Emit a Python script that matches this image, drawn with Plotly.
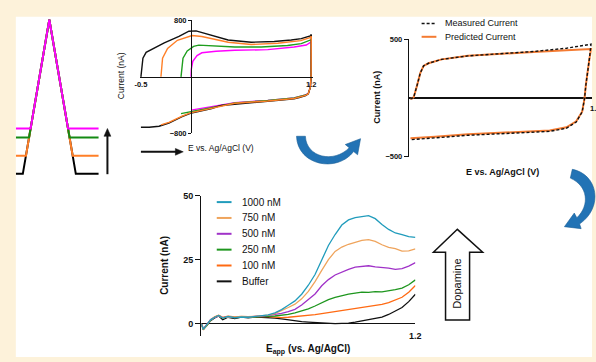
import plotly.graph_objects as go

W, H = 596, 362
def fx(x): return x / W
def fy(y): return 1 - y / H

FONT = "Arial, 'Liberation Sans', sans-serif"
CREAM = "#FDF2DA"

# ---------------- DATA ----------------
# Panel A: triangular waveforms with different holding potentials (time, potential)
wave_names = ["-0.5 V", "-0.3 V", "-0.1 V", "0.0 V"]
wave_colors = ["#000000", "#FF7F27", "#138A13", "#FF00FF"]
wave_t = [[0, 7.1, 34, 60.9, 84],
          [0, 10.3, 34, 57.7, 84],
          [0, 13.4, 34, 54.6, 84],
          [0, 15.0, 34, 53.0, 84]]
wave_E = [[-0.5, -0.5, 1.2, -0.5, -0.5],
          [-0.3, -0.3, 1.2, -0.3, -0.3],
          [-0.1, -0.1, 1.2, -0.1, -0.1],
          [0.0, 0.0, 1.2, 0.0, 0.0]]

# Panel B: background CVs for each holding potential
cv_names = ["0.0 V", "-0.1 V", "-0.5 V", "-0.3 V"]
cv_colors = ["#FF00FF", "#1E9E1E", "#111111", "#FF7F27"]
cv_E = [
    [0, 0.003, 0.018, 0.043, 0.06, 0.108, 0.25, 0.437, 0.766, 1.029, 1.15, 1.193, 1.2,
     1.198, 1.19, 1.17, 1.144, 1.029, 0.766, 0.437, 0.207, 0.1, 0.0],
    [-0.1, -0.09, -0.08, -0.038, 0.026, 0.077, 0.174, 0.437, 0.7, 0.963, 1.1, 1.193, 1.2,
     1.198, 1.19, 1.17, 1.144, 1.029, 0.766, 0.437, 0.207, 0.05, -0.05, -0.1],
    [-0.5, -0.49, -0.48, -0.448, -0.40, -0.267, -0.12, -0.021, 0.05, 0.17, 0.37, 0.6, 0.83, 1.0, 1.1, 1.19, 1.2,
     1.198, 1.19, 1.17, 1.144, 1.08, 1.029, 0.9, 0.766, 0.6, 0.437, 0.3, 0.207, 0.1, -0.007, -0.089, -0.15, -0.221, -0.319, -0.418, -0.5],
    [-0.3, -0.292, -0.284, -0.234, -0.136, 0.011, 0.108, 0.371, 0.602, 0.865, 1.095, 1.193, 1.2,
     1.198, 1.19, 1.17, 1.144, 1.029, 0.766, 0.437, 0.207, -0.007, -0.089, -0.15, -0.22, -0.3],
]
cv_I = [
    [0, 110, 218, 270, 300, 340, 362, 375, 384, 421, 450, 489, 500,
     0, -150, -235, -255, -298, -333, -366, -425, -455, -471],
    [0, 130, 263, 365, 430, 448, 443, 421, 421, 443, 470, 512, 525,
     0, -150, -238, -258, -300, -336, -370, -432, -480, -505, -520],
    [0, 120, 263, 346, 380, 479, 571, 645, 650, 600, 521, 489, 500, 520, 540, 580, 600,
     0, -150, -242, -265, -295, -311, -330, -347, -362, -379, -405, -448, -485, -517, -562, -610, -654, -699, -713, -713],
    [0, 130, 263, 401, 517, 585, 570, 489, 457, 475, 512, 558, 575,
     0, -150, -240, -262, -306, -342, -374, -440, -510, -555, -600, -645, -680],
]

# Panel C: measured vs predicted current
mp_E = [-0.386, -0.372, -0.358, -0.344, -0.330, -0.301, -0.273, -0.231, -0.118, 0.108, 0.390, 0.673, 0.955, 1.166,
        1.152, 1.138, 1.122, 1.110, 1.090, 1.039, 0.955, 0.811, 0.531, 0.108, -0.174, -0.386]
pred_I = [-8, -5, 6, 50, 102, 212, 272, 294, 327, 357, 376, 390, 404, 415,
          330, 239, 110, -8, -118, -200, -250, -277, -290, -310, -330, -343]
meas_I = [-8, -5, 6, 50, 102, 212, 272, 294, 327, 357, 378, 394, 422, 456,
          330, 239, 110, -8, -120, -205, -258, -285, -298, -318, -340, -356]

# Panel D: dopamine voltammograms
da_E = [-0.4, -0.385, -0.36, -0.33, -0.3, -0.27, -0.24, -0.2, -0.15, -0.1, -0.05, 0.0,
        0.05, 0.1, 0.15, 0.2, 0.25, 0.3, 0.35, 0.4, 0.45, 0.5, 0.55, 0.6, 0.65, 0.7,
        0.75, 0.8, 0.85, 0.9, 0.95, 1.0, 1.05, 1.1, 1.15, 1.2]
da_names = ["1000 nM", "750 nM", "500 nM", "250 nM", "100 nM", "Buffer"]
da_colors = ["#219CBC", "#EFA45C", "#A032C8", "#1E961E", "#FF6A13", "#111111"]
da_I = [
    [0, -2.2, -0.5, 1.5, 2.5, 3.2, 2.2, 2.8, 2.4, 2.6, 2.5, 2.8,
     3.0, 3.4, 4.2, 5.5, 7.2, 8.9, 11.5, 15.0, 19.2, 24.8, 30.5, 34.8, 38.5, 40.5,
     41.4, 41.8, 42.2, 41.0, 38.7, 36.8, 35.4, 34.8, 34.0, 33.7],
    [0, -2.1, -0.6, 1.4, 2.6, 3.1, 2.3, 2.7, 2.5, 2.7, 2.6, 2.9,
     3.0, 3.3, 3.9, 5.0, 6.3, 7.6, 9.7, 12.6, 16.4, 20.8, 25.0, 28.2, 29.9, 31.0,
     31.9, 32.5, 32.8, 32.1, 30.8, 29.8, 29.3, 28.3, 28.4, 29.2],
    [0, -2.0, -0.4, 1.6, 2.4, 3.0, 2.4, 2.6, 2.4, 2.5, 2.6, 2.8,
     3.0, 3.2, 3.5, 4.0, 4.7, 5.6, 7.3, 9.4, 11.6, 14.8, 17.2, 19.0, 20.2, 21.2,
     22.1, 22.4, 22.6, 22.2, 22.0, 21.7, 21.2, 21.5, 22.5, 23.8],
    [0, -2.3, -0.7, 1.3, 2.5, 3.1, 2.2, 2.7, 2.3, 2.6, 2.5, 2.7,
     2.8, 2.9, 3.0, 3.2, 3.6, 4.2, 4.9, 5.8, 6.9, 8.2, 9.4, 10.3, 11.0, 11.5,
     11.9, 12.3, 12.2, 12.5, 12.4, 12.8, 13.3, 13.9, 15.2, 17.1],
    [0, -2.4, -0.6, 1.5, 2.7, 3.3, 2.5, 2.9, 2.6, 2.8, 2.7, 2.9,
     2.9, 2.8, 2.6, 2.4, 2.5, 2.7, 2.9, 3.2, 3.5, 3.9, 4.3, 4.6, 5.0, 5.4,
     5.8, 6.1, 6.5, 7.0, 7.5, 8.2, 9.1, 10.3, 12.3, 14.9],
    [0, -2.0, -0.8, 1.2, 2.2, 3.0, 1.5, 2.5, 2.0, 2.6, 2.3, 2.6,
     2.5, 2.4, 2.2, 1.9, 1.5, 1.1, 0.8, 0.6, 0.4, 0.2, 0.1, 0.0, 0.1, 0.2,
     0.6, 1.1, 1.6, 2.0, 2.6, 3.6, 4.8, 6.3, 8.6, 11.5],
]

# ---------------- FIGURE ----------------
fig = go.Figure()

for t, e, c, n in zip(wave_t, wave_E, wave_colors, wave_names):
    fig.add_trace(go.Scatter(x=t, y=e, mode="lines", name=n, line=dict(color=c, width=2),
                             xaxis="x", yaxis="y", showlegend=False, hoverinfo="skip"))

for e, i, c, n in zip(cv_E, cv_I, cv_colors, cv_names):
    fig.add_trace(go.Scatter(x=e, y=i, mode="lines", name=n, line=dict(color=c, width=1.4),
                             xaxis="x2", yaxis="y2", showlegend=False))

fig.add_trace(go.Scatter(x=mp_E, y=pred_I, mode="lines", name="Predicted Current",
                         line=dict(color="#F47B32", width=2), xaxis="x3", yaxis="y3", showlegend=False))
fig.add_trace(go.Scatter(x=mp_E, y=meas_I, mode="lines", name="Measured Current",
                         line=dict(color="#111111", width=1.4, dash="3px,2px"), xaxis="x3", yaxis="y3",
                         showlegend=False))

for i in range(len(da_names) - 1, -1, -1):
    fig.add_trace(go.Scatter(x=da_E, y=da_I[i], mode="lines", name=da_names[i],
                             line=dict(color=da_colors[i], width=1.3), xaxis="x4", yaxis="y4",
                             showlegend=False))

# wave axis scaling: 93.33 px per volt, 0 V at pixel 127
wave_px_per_V = 112 / 1.2
ax_common = dict(showgrid=False, zeroline=False)

layout = dict(
    width=W, height=H, margin=dict(l=0, r=0, t=0, b=0),
    paper_bgcolor=CREAM, plot_bgcolor="rgba(0,0,0,0)",
    font=dict(family=FONT, color="#111111"),
    showlegend=False,
    xaxis=dict(domain=[fx(11), fx(97)], range=[0, 86], visible=False, **ax_common),
    yaxis=dict(domain=[fy(180), fy(10)],
               range=[(127 - 180) / wave_px_per_V, (127 - 10) / wave_px_per_V],
               visible=False, **ax_common),
    xaxis2=dict(domain=[fx(136.98), fx(312.5)], range=[-0.51, 1.215], anchor="free",
                position=fy(73.85), showline=True, linecolor="#111111", linewidth=1,
                ticks="", tickvals=[-0.5, 1.2], ticktext=["-0.5", "1.2"],
                tickfont=dict(size=7.5, weight="bold"), **ax_common),
    yaxis2=dict(domain=[fy(132), fy(15.7)], range=[-800, 800], anchor="free",
                position=fx(188.9), showline=True, linecolor="#111111", linewidth=1,
                ticks="outside", ticklen=3, tickcolor="#111111", tickvals=[800, -800],
                tickfont=dict(size=7.5, weight="bold"), **ax_common),
    xaxis3=dict(domain=[fx(410), 1], range=[-0.4, 1.1746], visible=False, anchor="y3", **ax_common),
    yaxis3=dict(domain=[fy(156), fy(35)], range=[-500, 500], anchor="x3",
                showline=True, linecolor="#111111", linewidth=1,
                ticks="outside", ticklen=4, tickcolor="#111111", tickvals=[500, -500],
                tickfont=dict(size=7.5, weight="bold"),
                showgrid=False, zeroline=True, zerolinecolor="#111111", zerolinewidth=1.6),
    xaxis4=dict(domain=[fx(199.3), fx(416.7)], range=[-0.4, 1.2], visible=False, anchor="y4", **ax_common),
    yaxis4=dict(domain=[fy(340.9), fy(196)], range=[-5, 50], anchor="x4",
                showline=True, linecolor="#111111", linewidth=1.2,
                ticks="outside", ticklen=5, tickcolor="#111111", tickvals=[0, 25, 50],
                tickfont=dict(size=9, weight="bold"),
                showgrid=False, zeroline=True, zerolinecolor="#111111", zerolinewidth=1.5),
)

def path(segs):
    out = []
    for cmd, pts in segs:
        coords = " ".join(f"{fx(x):.5f},{fy(y):.5f}" for x, y in pts)
        out.append(f"{cmd}{coords}")
    return " ".join(out) + " Z"

BLUE = "#2273B5"
shapes = [
    dict(type="rect", xref="paper", yref="paper", x0=fx(11), x1=1, y0=0, y1=fy(12),
         fillcolor="white", line=dict(width=0), layer="below"),
    # blue curved arrows
    dict(type="path", xref="paper", yref="paper", fillcolor=BLUE, line=dict(color="#1A5E96", width=0.6),
         path=path([("M", [(296, 135)]), ("C", [(297, 165), (337, 173), (354, 150.7)]),
                    ("L", [(358, 154)]), ("L", [(361, 137.5)]), ("L", [(345.5, 143.5)]),
                    ("L", [(349.5, 146.8)]), ("C", [(334, 163), (306, 157), (305, 135)])])),
    dict(type="path", xref="paper", yref="paper", fillcolor=BLUE, line=dict(color="#1A5E96", width=0.6),
         path=path([("M", [(576, 169)]), ("C", [(602, 174), (608, 208), (583.4, 225.2)]),
                    ("L", [(585, 230)]), ("L", [(568, 228)]), ("L", [(578, 214)]),
                    ("L", [(580.6, 218.8)]), ("C", [(594, 206), (592, 186), (574, 178)])])),
    # outlined dopamine arrow
    dict(type="path", xref="paper", yref="paper", fillcolor="white", line=dict(color="#111111", width=1.5),
         path=path([("M", [(447.3, 324)]), ("L", [(471.7, 324)]), ("L", [(471.7, 254.3)]),
                    ("L", [(485, 254.3)]), ("L", [(459.3, 230.7)]), ("L", [(435, 254.3)]),
                    ("L", [(447.3, 254.3)])])),
    # black arrows in panel A (shaft + head)
    dict(type="line", xref="paper", yref="paper", x0=fx(104), x1=fx(104), y0=fy(174), y1=fy(134),
         line=dict(color="#111111", width=2)),
    dict(type="path", xref="paper", yref="paper", fillcolor="#111111", line=dict(color="#111111", width=0.5),
         path=path([("M", [(104, 127)]), ("L", [(100.5, 135)]), ("L", [(107.5, 135)])])),
    dict(type="line", xref="paper", yref="paper", x0=fx(138), x1=fx(174), y0=fy(151), y1=fy(151),
         line=dict(color="#111111", width=2)),
    dict(type="path", xref="paper", yref="paper", fillcolor="#111111", line=dict(color="#111111", width=0.5),
         path=path([("M", [(181, 151)]), ("L", [(173, 147.5)]), ("L", [(173, 154.5)])])),
]

annotations = []
def txt(x, y, s, size, bold=False, angle=0, xanchor="center", yanchor="middle"):
    annotations.append(dict(x=fx(x), y=fy(y), xref="paper", yref="paper", text=s, showarrow=False,
                            textangle=angle, xanchor=xanchor, yanchor=yanchor,
                            font=dict(size=size, weight="bold" if bold else "normal", color="#111111")))

# panel B titles
txt(118, 73, "Current (nA)", 8.5, angle=-90)
txt(184, 147, "E vs. Ag/AgCl (V)", 8.5, xanchor="left")
# panel C titles
txt(378, 95, "Current (nA)", 9, bold=True, angle=-90)
txt(505.5, 172, "E vs. Ag/AgCl (V)", 9, bold=True)
txt(599, 106, "1.2", 7.5, bold=True)
# panel D titles
txt(161.7, 268, "Current (nA)", 10, bold=True, angle=-90)
txt(308, 354, "E<sub>app</sub> (vs. Ag/AgCl)", 10, bold=True)
txt(417, 340, "1.2", 9, bold=True)
txt(459.5, 287, "Dopamine", 11, angle=-90)

# panel C legend
leg_c = [("Measured Current", "#111111", "3px,2px", 1.4, 19), ("Predicted Current", "#F47B32", "solid", 2, 32.7)]
for name, col, dash, wd, yy in leg_c:
    shapes.append(dict(type="line", xref="paper", yref="paper", x0=fx(423), x1=fx(438), y0=fy(yy), y1=fy(yy),
                       line=dict(color=col, width=wd, dash=dash)))
    txt(445, yy, name, 9, xanchor="left")

# panel D legend
for k, (name, col) in enumerate(zip(da_names, da_colors)):
    yy = 202.7 + 16.3 * k
    shapes.append(dict(type="line", xref="paper", yref="paper", x0=fx(215), x1=fx(230), y0=fy(yy), y1=fy(yy),
                       line=dict(color=col, width=2)))
    txt(239, yy, name, 10, xanchor="left")

layout["shapes"] = shapes
layout["annotations"] = annotations
fig.update_layout(**layout)

fig.write_html("out.html", config={"displayModeBar": False, "staticPlot": True},
               post_script="document.body.style.margin='0';document.body.style.overflow='hidden';")
